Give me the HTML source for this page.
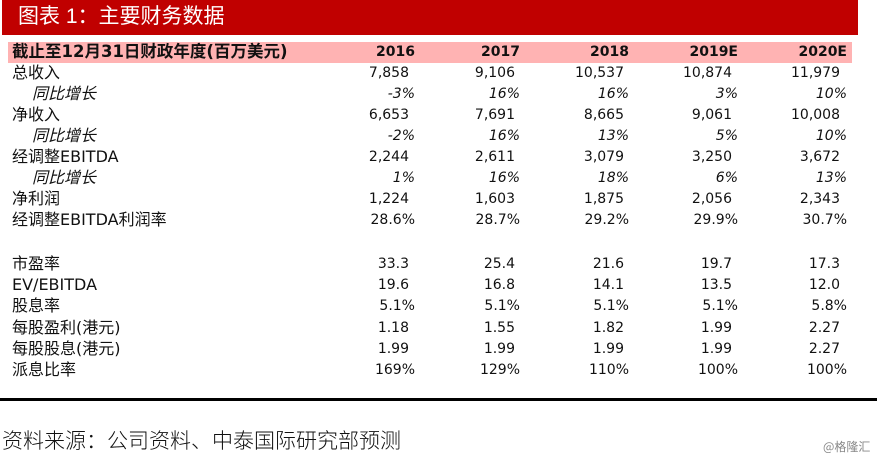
<!DOCTYPE html>
<html><head><meta charset="utf-8"><style>
body{margin:0;width:883px;height:457px;background:#fff;position:relative;overflow:hidden;font-family:"DejaVu Sans","Noto Sans CJK SC",sans-serif;color:#111}
.a{position:absolute;white-space:nowrap;line-height:20px;font-size:14px}
.r{text-align:right}
.i{font-style:italic}
.l{font-size:16px}
</style></head><body>
<div style="position:absolute;left:2px;top:0;width:856px;height:35px;background:#c00000"></div>
<div class="a" style="left:18px;top:3px;line-height:28px;font-size:21px;color:#fff;font-family:'Liberation Sans','Noto Sans CJK SC',sans-serif">图表 1：主要财务数据</div>
<div style="position:absolute;left:8px;top:42px;width:844px;height:21px;background:#ffb3b3"></div>
<div id="c"></div>
<div style="position:absolute;left:0;top:398px;width:877px;height:3px;background:#000"></div>
<div class="a" style="left:2px;top:427px;font-size:21px;line-height:26px;font-family:'Noto Sans CJK SC',sans-serif;font-weight:300;color:#111">资料来源：公司资料、中泰国际研究部预测</div>
<div class="a" style="left:823px;top:437px;font-size:12px;color:#888;font-family:'Noto Sans CJK SC',sans-serif">@格隆汇</div>
<script>
var rows=[
[52,"截止至12月31日财政年度(百万美元)",["2016","2017","2018","2019E","2020E"],"h"],
[73,"总收入",["7,858","9,106","10,537","10,874","11,979"],"n"],
[94,"同比增长",["-3%","16%","16%","3%","10%"],"p"],
[115,"净收入",["6,653","7,691","8,665","9,061","10,008"],"n"],
[136,"同比增长",["-2%","16%","13%","5%","10%"],"p"],
[157,"经调整EBITDA",["2,244","2,611","3,079","3,250","3,672"],"n"],
[178,"同比增长",["1%","16%","18%","6%","13%"],"p"],
[199,"净利润",["1,224","1,603","1,875","2,056","2,343"],"n"],
[220,"经调整EBITDA利润率",["28.6%","28.7%","29.2%","29.9%","30.7%"],"q"],
[264,"市盈率",["33.3","25.4","21.6","19.7","17.3"],"n"],
[285,"EV/EBITDA",["19.6","16.8","14.1","13.5","12.0"],"n"],
[306,"股息率",["5.1%","5.1%","5.1%","5.1%","5.8%"],"q"],
[328,"每股盈利(港元)",["1.18","1.55","1.82","1.99","2.27"],"n"],
[349,"每股股息(港元)",["1.99","1.99","1.99","1.99","2.27"],"n"],
[370,"派息比率",["169%","129%","110%","100%","100%"],"q"]];
var nR=[409,515,624,732,840],pR=[415,520,629,738,847];
var h="";
rows.forEach(function(r){
 var t=r[0]-10,k=r[3];
 var st=k=="h"?"font-weight:bold;":"";
 var lx=k=="p"?32:12;
 var ls=k=="h"?"font-size:16.5px;":"";
 h+='<div class="a l'+(k=="p"?' i':'')+'" style="'+st+ls+'left:'+lx+'px;top:'+t+'px">'+r[1]+'</div>';
 var R=(k=="n")?nR:pR;
 r[2].forEach(function(v,j){
  h+='<div class="a r'+(k=="p"?' i':'')+'" style="'+st+'right:'+(883-R[j])+'px;top:'+t+'px">'+v+'</div>';
 });
});
document.getElementById("c").innerHTML=h;
</script>
</body></html>
